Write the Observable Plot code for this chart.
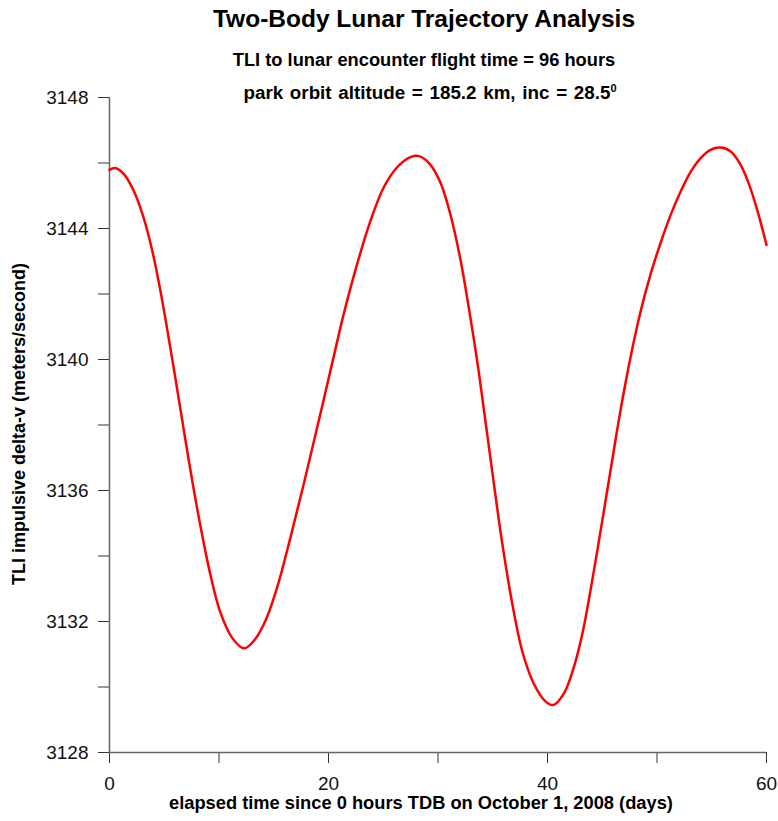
<!DOCTYPE html>
<html>
<head>
<meta charset="utf-8">
<script src="https://cdn.jsdelivr.net/npm/d3@7"></script>
<script src="https://cdn.jsdelivr.net/npm/@observablehq/plot@0.6"></script>
<style>
  html, body { margin: 0; padding: 0; background: #fff; }
  #wrap { position: relative; width: 778px; height: 821px; font-family: "Liberation Sans", Arial, sans-serif; color: #000; }
  #wrap svg { position: absolute; left: 0; top: 0; }
  .t { position: absolute; white-space: nowrap; line-height: 1; font-weight: bold; transform: translateX(-50%); }
  #title { left: 424px; top: 7px; font-size: 24.5px; }
  #sub1 { left: 424px; top: 51px; font-size: 18.3px; }
  #sub2 { left: 430px; top: 83.5px; font-size: 18.8px; word-spacing: 1.5px; }
  #sub2 sup { font-size: 11px; vertical-align: 7px; line-height: 0; }
  #xlab { left: 421px; top: 794px; font-size: 18.3px; }
  #ylab { left: 19px; top: 424px; font-size: 18px; transform: translate(-50%, -50%) rotate(-90deg); }
</style>
</head>
<body>
<div id="wrap">
  <div class="t" id="title">Two-Body Lunar Trajectory Analysis</div>
  <div class="t" id="sub1">TLI to lunar encounter flight time = 96 hours</div>
  <div class="t" id="sub2">park orbit altitude = 185.2 km, inc = 28.5<sup>0</sup></div>
  <div class="t" id="xlab">elapsed time since 0 hours TDB on October 1, 2008 (days)</div>
  <div class="t" id="ylab">TLI impulsive delta-v (meters/second)</div>
</div>
<script>
// elapsed time (days)
const days = [0.0, 0.5, 1.3, 2.2, 3.1, 3.9, 4.7, 5.6, 6.5, 7.2, 8.2, 9.2, 10.1, 11.2, 12.3, 13.3, 14.25, 15.32, 16.53, 17.74, 18.97, 20.18, 21.4, 22.62, 23.84, 25.05, 26.27, 27.49, 28.25, 29.2, 30.23, 31.14, 32.05, 32.81, 33.58, 34.34, 35.1, 35.86, 36.78, 37.69, 38.75, 39.82, 40.52, 41.49, 42.4, 43.2, 43.93, 44.84, 45.75, 46.67, 47.58, 48.49, 49.41, 50.32, 51.23, 52.15, 53.06, 53.97, 54.89, 55.74, 56.71, 57.63, 58.38, 59.15, 60.0];
// TLI impulsive delta-v (m/s)
const deltaV = [3145.79, 3145.85, 3145.67, 3145.16, 3144.35, 3143.33, 3142.01, 3140.27, 3138.44, 3137.0, 3135.1, 3133.45, 3132.3, 3131.5, 3131.18, 3131.46, 3132.03, 3133.05, 3134.57, 3136.2, 3137.93, 3139.66, 3141.4, 3142.92, 3144.24, 3145.26, 3145.87, 3146.18, 3146.21, 3145.99, 3145.4, 3144.42, 3143.05, 3141.58, 3139.95, 3138.1, 3136.22, 3134.4, 3132.55, 3131.1, 3130.1, 3129.56, 3129.45, 3129.8, 3130.6, 3131.65, 3132.95, 3134.75, 3136.6, 3138.45, 3140.06, 3141.45, 3142.6, 3143.55, 3144.4, 3145.12, 3145.72, 3146.14, 3146.4, 3146.47, 3146.36, 3145.95, 3145.37, 3144.57, 3143.5];
const xTicks = [0, 10, 20, 30, 40, 50, 60];
const xLabelled = [0, 20, 40, 60];
const yTicks = [3128, 3130, 3132, 3134, 3136, 3138, 3140, 3142, 3144, 3146, 3148];
const yLabelled = [3128, 3132, 3136, 3140, 3144, 3148];

const data = days.map((d, i) => ({day: d, dv: deltaV[i]}));

const chart = Plot.plot({
  width: 778,
  height: 821,
  marginLeft: 109,
  marginRight: 12,
  marginTop: 97,
  marginBottom: 69,
  style: {fontFamily: '"Liberation Sans", Arial, sans-serif', fontSize: "19px", background: "transparent", overflow: "visible"},
  x: {domain: [0, 60]},
  y: {domain: [3128, 3148]},
  marks: [
    Plot.axisX({ticks: xTicks, tickSize: 11, tickPadding: 13, stroke: "#333", fill: "#111", label: null,
      tickFormat: d => xLabelled.includes(d) ? String(d) : ""}),
    Plot.axisY({ticks: yTicks, tickSize: 11, tickPadding: 10, stroke: "#333", fill: "#111", label: null,
      tickFormat: d => yLabelled.includes(d) ? String(d) : ""}),
    Plot.ruleX([0], {stroke: "#666", strokeWidth: 1.5}),
    Plot.ruleY([3128], {stroke: "#666", strokeWidth: 1.5}),
    Plot.line(data, {x: "day", y: "dv", stroke: "#ff0000", strokeWidth: 2.5, curve: "catmull-rom"})
  ]
});
document.getElementById("wrap").prepend(chart);
</script>
</body>
</html>
